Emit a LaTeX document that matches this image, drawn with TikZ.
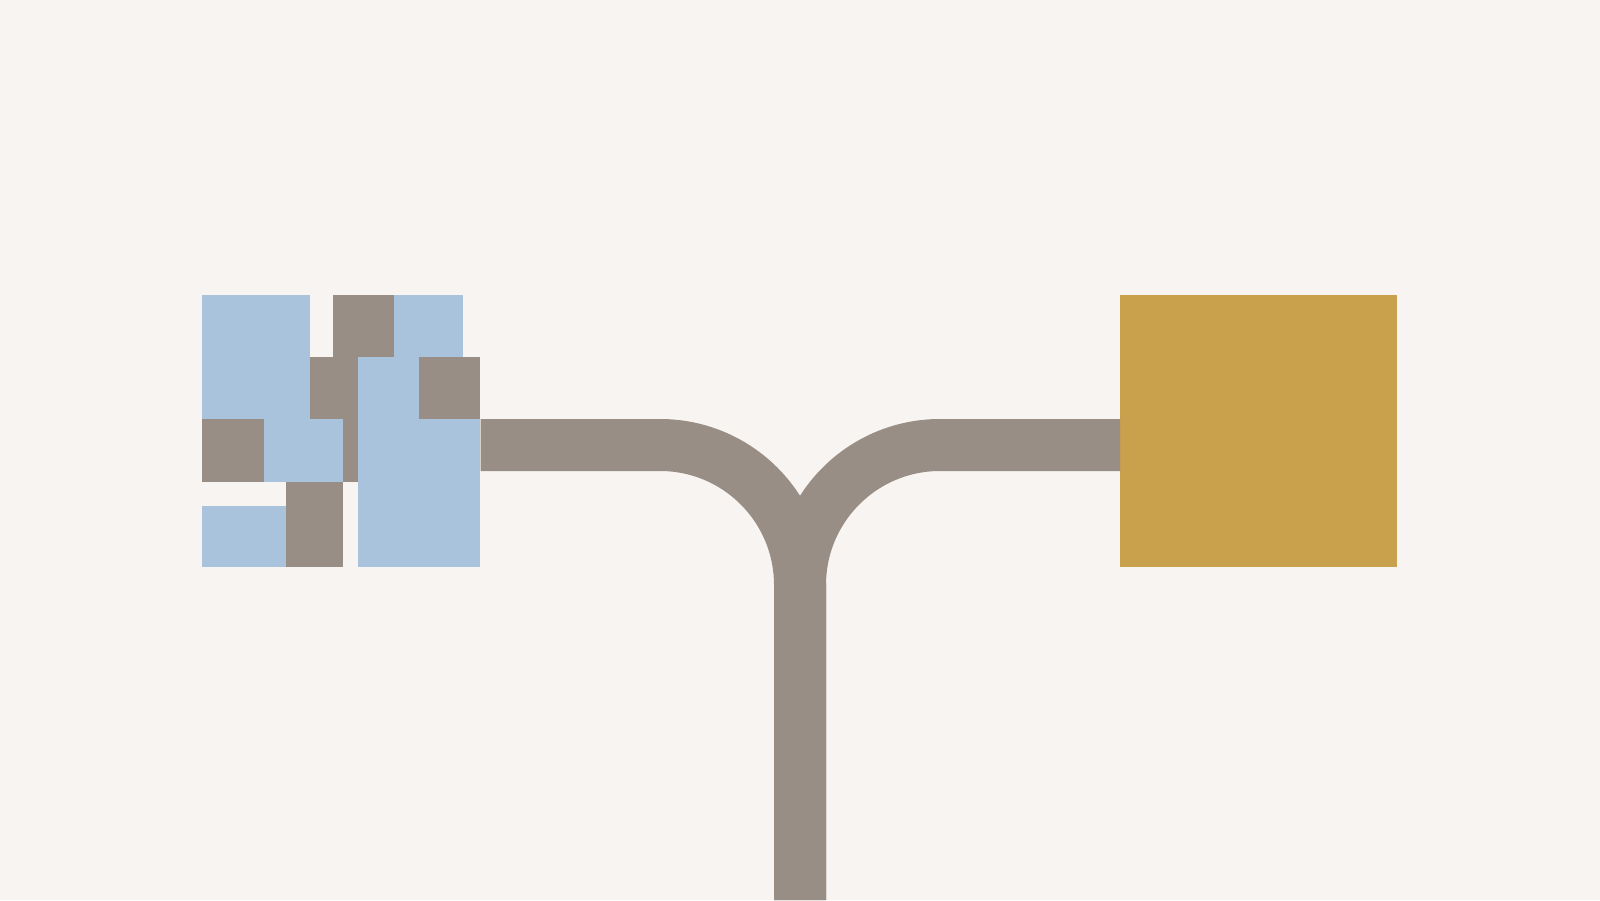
\documentclass[tikz,border=0pt]{standalone}
\usepackage{tikz}
\usetikzlibrary{positioning, fit, calc}
\usepackage{xcolor}

\definecolor{paper}{HTML}{F7F4F1}
\definecolor{tileblue}{HTML}{A8C3DB}
\definecolor{tilebrown}{HTML}{998E85}
\definecolor{gold}{HTML}{C9A04C}

\tikzset{
    tile/.style={rectangle, inner sep=0pt, outer sep=0pt, anchor=north west},
    bluetile/.style={tile, fill=tileblue},
    browntile/.style={tile, fill=tilebrown},
    road/.style={draw=tilebrown, line width=0.52cm}
}

\begin{document}
\begin{tikzpicture}
    \fill[paper] (0,0) rectangle (16,9);
    \useasboundingbox (0,0) rectangle (16,9);

    % mosaic of tiles
    \node[bluetile, minimum width=1.08cm, minimum height=1.24cm] (t1) at (2.02,6.05) {};
    \node[browntile, minimum width=0.61cm, minimum height=0.62cm] (t2) at (3.33,6.05) {};
    \node[bluetile, minimum width=0.69cm, minimum height=0.62cm] (t3) at (3.94,6.05) {};
    \node[browntile, minimum width=0.48cm, minimum height=1.25cm] (t4) at (3.10,5.43) {};
    \node[bluetile, minimum width=1.22cm, minimum height=2.10cm] (t5) at (3.58,5.43) {};
    \node[browntile, minimum width=0.61cm, minimum height=0.62cm] (t6) at (4.19,5.43) {};
    \node[browntile, minimum width=0.62cm, minimum height=0.63cm] (t7) at (2.02,4.81) {};
    \node[bluetile, minimum width=0.79cm, minimum height=0.63cm] (t8) at (2.64,4.81) {};
    \node[browntile, minimum width=0.57cm, minimum height=0.85cm] (t9) at (2.86,4.18) {};
    \node[bluetile, minimum width=0.84cm, minimum height=0.61cm] (t10) at (2.02,3.94) {};
    \node[fit=(t1)(t3)(t5)(t10), inner sep=0pt] (mosaic) {};

    % target block
    \node[tile, fill=gold, minimum width=2.77cm, minimum height=2.72cm] (box) at (11.20,6.05) {};
    \coordinate (bottom) at (8,0);

    % merging roads
    \draw[road] ([yshift=-0.14cm]mosaic.east) -- (6.60,4.55)
        arc[start angle=90, end angle=0, radius=1.40] -- (bottom);
    \draw[road] ([yshift=-0.14cm]box.west) -- (9.40,4.55)
        arc[start angle=90, end angle=180, radius=1.40] -- (bottom);
\end{tikzpicture}
\end{document}
